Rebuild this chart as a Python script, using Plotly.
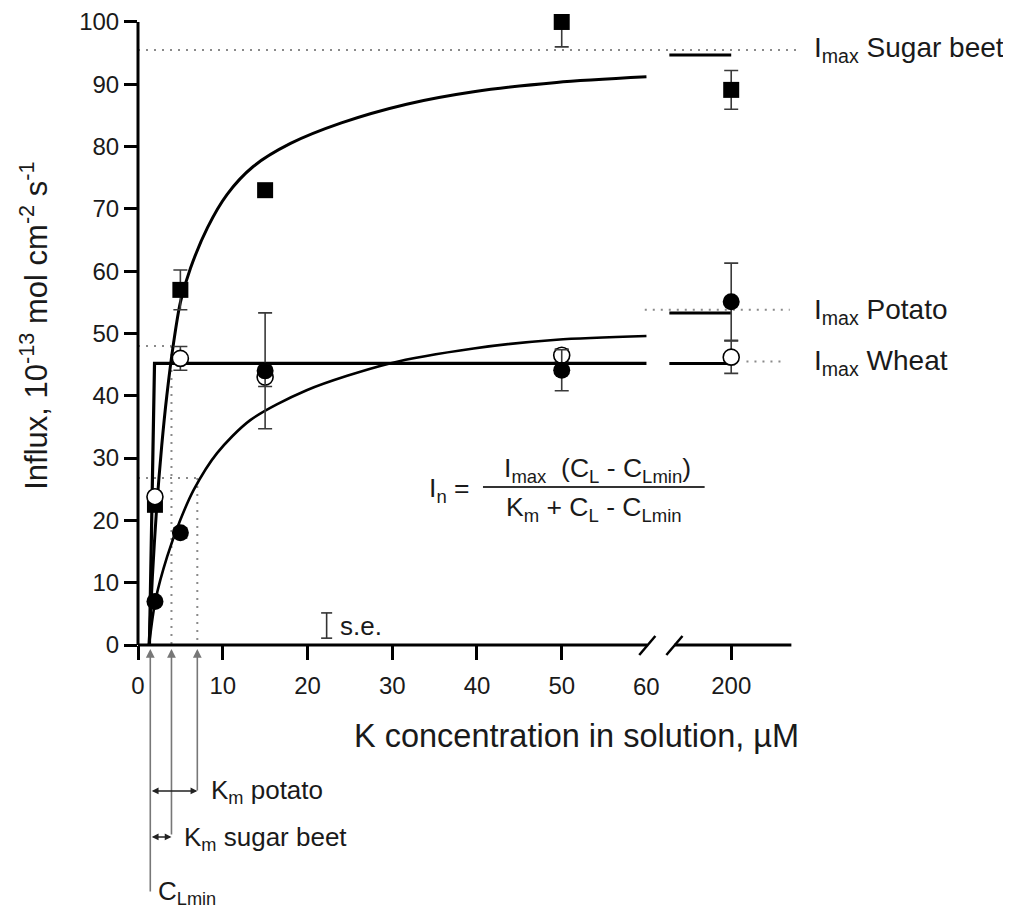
import plotly.graph_objects as go

# ---------------- data ----------------
conc = [2, 5, 15, 50, 200]                       # K concentration, µM
sugar_beet = [22.5, 57, 73, 100, 89.1]           # filled squares
sugar_beet_err_up = [0, 3.2, 0, 0, 3.1]
sugar_beet_err_down = [0, 3.2, 0, 4.0, 3.1]
potato = [7, 18, 44, 44.1, 55.1]                 # filled circles
potato_err = [0, 0.8, 9.3, 3.3, 6.2]
wheat = [23.8, 46, 43, 46.5, 46.2]               # open circles
wheat_err = [0, 1.9, 1.5, 1.0, 2.6]

# fitted curves (0-60 µM part)
sb_curve_x = [1.3, 1.7, 2.2, 2.8, 3.4, 4.2, 5.0, 6.2, 8.2, 10.5, 13.6, 18.0, 24.0, 31.7, 39.6, 49.4, 60.0]
sb_curve_y = [0, 11, 22, 32, 40, 48.5, 55.0, 60.5, 67.0, 72.3, 76.8, 80.5, 83.8, 86.8, 88.8, 90.3, 91.2]
potato_curve_x = [1.3, 2.06, 3.44, 5.0, 6.57, 9.33, 13.25, 19.9, 29.7, 39.6, 49.4, 60.0]
potato_curve_y = [0, 7.2, 14.2, 20.1, 24.9, 30.8, 36.1, 40.9, 45.2, 47.6, 49.0, 49.6]
wheat_curve_x = [1.35, 1.95, 60.0]
wheat_curve_y = [0, 45.2, 45.2]

# curve levels on the short piece after the axis break (up to 200 µM)
sb_after_break = 94.7
potato_after_break = 53.3
wheat_after_break = 45.2

imax_labels = ["Sugar beet", "Potato", "Wheat"]
imax_values = [95.5, 53.8, 45.5]

cl_min = 1.45
km_sb_point = 3.95     # C_Lmin + Km (sugar beet)
km_potato_point = 7.0  # C_Lmin + Km (potato)
half_imax_sb = 48.0
half_imax_potato = 26.8

x_tick_values = [0, 10, 20, 30, 40, 50, 60, 200]
y_tick_values = [0, 10, 20, 30, 40, 50, 60, 70, 80, 90, 100]

# ---------------- broken x axis ----------------
BREAK_AT = 60
POS_200 = 70          # display position of the 200 µM tick
SEG_START = 62.7      # display position where curves resume after the break
X_END = 77.1


def disp(x):
    return x if x <= BREAK_AT else POS_200


FONT = "Liberation Sans, Arial, Helvetica, sans-serif"
TXT = "#1a1a1a"
DOT = "#8a8a8a"

# geometry: the page body adds an 8 px offset to the figure
OFF = 8
W, H = 1003, 902
ML, PW = 129.5, 662
PH = 101.6 * 6.233
PB = 637                      # plot bottom in figure pixels
MT = PB - PH


def xp(px):
    """page pixel x -> paper x"""
    return (px - OFF - ML) / PW


def yp(py):
    """page pixel y -> paper y"""
    return (PB - (py - OFF)) / PH


fig = go.Figure()


def dotted(x0, x1, y0, y1):
    fig.add_trace(go.Scatter(x=[x0, x1], y=[y0, y1], mode="lines",
                             line=dict(color=DOT, width=2, dash="2px,6px"),
                             hoverinfo="skip", showlegend=False, cliponaxis=False))


dotted(0, 77.8, imax_values[0], imax_values[0])
dotted(59.8, 76.9, imax_values[1], imax_values[1])
dotted(71.8, 76.0, imax_values[2], imax_values[2])
dotted(0, km_sb_point, half_imax_sb, half_imax_sb)
dotted(km_sb_point, km_sb_point, half_imax_sb, 0)
dotted(0, km_potato_point, half_imax_potato, half_imax_potato)
dotted(km_potato_point, km_potato_point, half_imax_potato, 0)

# fitted curves
fig.add_trace(go.Scatter(x=sb_curve_x, y=sb_curve_y, mode="lines",
                         line=dict(color="black", width=3, shape="spline", smoothing=0.8),
                         showlegend=False, hoverinfo="skip", cliponaxis=False))
fig.add_trace(go.Scatter(x=potato_curve_x, y=potato_curve_y, mode="lines",
                         line=dict(color="black", width=2.6, shape="spline", smoothing=0.8),
                         showlegend=False, hoverinfo="skip", cliponaxis=False))
fig.add_trace(go.Scatter(x=wheat_curve_x, y=wheat_curve_y, mode="lines", line=dict(color="black", width=3.2),
                         showlegend=False, hoverinfo="skip", cliponaxis=False))
for lvl in [sb_after_break, potato_after_break, wheat_after_break]:
    fig.add_trace(go.Scatter(x=[SEG_START, disp(200)], y=[lvl, lvl], mode="lines",
                             line=dict(color="black", width=3),
                             showlegend=False, hoverinfo="skip", cliponaxis=False))

xd = [disp(c) for c in conc]
err_style = dict(color="#3a3a3a", thickness=1.6, width=7)

fig.add_trace(go.Scatter(x=xd, y=sugar_beet, mode="markers", name="Sugar beet",
                         marker=dict(symbol="square", size=16, color="black"),
                         error_y=dict(type="data", symmetric=False, array=sugar_beet_err_up,
                                      arrayminus=sugar_beet_err_down, **err_style),
                         showlegend=False, cliponaxis=False))
fig.add_trace(go.Scatter(x=xd, y=wheat, mode="markers", name="Wheat",
                         marker=dict(symbol="circle", size=16, color="white", line=dict(color="black", width=1.6)),
                         error_y=dict(type="data", array=wheat_err, **err_style),
                         showlegend=False, cliponaxis=False))
fig.add_trace(go.Scatter(x=xd, y=potato, mode="markers", name="Potato",
                         marker=dict(symbol="circle", size=17, color="black"),
                         error_y=dict(type="data", array=potato_err, **err_style),
                         showlegend=False, cliponaxis=False))

shapes = []
# axis lines (y axis and broken x axis)
shapes.append(dict(type="line", xref="paper", yref="y", x0=0, x1=0, y0=0, y1=100,
                   line=dict(color="black", width=3)))
shapes.append(dict(type="line", xref="x", yref="paper", x0=0, x1=BREAK_AT + 0.1, y0=0, y1=0,
                   line=dict(color="black", width=3)))
shapes.append(dict(type="line", xref="x", yref="paper", x0=SEG_START + 0.6, x1=X_END, y0=0, y1=0,
                   line=dict(color="black", width=3)))
for cx in [BREAK_AT + 0.1, SEG_START + 0.6]:
    shapes.append(dict(type="line", xref="x", yref="paper", x0=cx - 0.95, x1=cx + 0.95,
                       y0=yp(655), y1=yp(636), line=dict(color="black", width=2.5)))

# s.e. marker
se_x = 22.26
shapes.append(dict(type="line", xref="x", yref="y", x0=se_x, x1=se_x, y0=1.1, y1=5.15,
                   line=dict(color="#333", width=1.6)))
for yy in [1.1, 5.15]:
    shapes.append(dict(type="line", xref="x", yref="y", x0=se_x - 0.65, x1=se_x + 0.65, y0=yy, y1=yy,
                       line=dict(color="#333", width=1.6)))

# fraction bar of the formula
shapes.append(dict(type="line", xref="paper", yref="paper", x0=xp(483), x1=xp(705), y0=yp(487), y1=yp(487),
                   line=dict(color="#333", width=2)))

annotations = []
# "60" label at the break
annotations.append(dict(x=60, xref="x", y=yp(687), yref="paper", text="60", showarrow=False,
                        font=dict(family=FONT, size=24, color=TXT), xanchor="center", yanchor="middle"))

# axis titles
annotations.append(dict(x=xp(577), y=yp(736), xref="paper", yref="paper", showarrow=False,
                        text="K concentration in solution, µM",
                        font=dict(family=FONT, size=32.5, color=TXT), xanchor="center", yanchor="middle"))
annotations.append(dict(x=xp(33), y=yp(326), xref="paper", yref="paper", showarrow=False, textangle=-90,
                        text="Influx, 10<sup>-13</sup> mol cm<sup>-2</sup> s<sup>-1</sup>",
                        font=dict(family=FONT, size=31, color=TXT), xanchor="center", yanchor="middle"))

# I_max labels
for lab, py in zip(imax_labels, [49, 311, 362]):
    annotations.append(dict(x=xp(813), y=yp(py), xref="paper", yref="paper", showarrow=False,
                            text="I<sub>max</sub> " + lab, font=dict(family=FONT, size=28, color=TXT),
                            xanchor="left", yanchor="middle"))

# formula
annotations.append(dict(x=xp(427), y=yp(490), xref="paper", yref="paper", showarrow=False,
                        text="I<sub>n</sub> =", font=dict(family=FONT, size=26.5, color=TXT),
                        xanchor="left", yanchor="middle"))
annotations.append(dict(x=xp(598), y=yp(470), xref="paper", yref="paper", showarrow=False,
                        text="I<sub>max</sub>  (C<sub>L</sub> - C<sub>Lmin</sub>)",
                        font=dict(family=FONT, size=26.5, color=TXT), xanchor="center", yanchor="middle"))
annotations.append(dict(x=xp(594), y=yp(509), xref="paper", yref="paper", showarrow=False,
                        text="K<sub>m</sub> + C<sub>L</sub> - C<sub>Lmin</sub>",
                        font=dict(family=FONT, size=26.5, color=TXT), xanchor="center", yanchor="middle"))

# s.e. label
annotations.append(dict(x=xp(338), y=yp(626), xref="paper", yref="paper", showarrow=False, text="s.e.",
                        font=dict(family=FONT, size=26, color=TXT), xanchor="left", yanchor="middle"))

# vertical arrows below the axis (C_Lmin, Km marks)
for xv, ybot in [(cl_min, 893), (km_sb_point, 836), (km_potato_point, 792)]:
    annotations.append(dict(x=xv, xref="x", y=yp(649), yref="paper", ax=0, ay=ybot - 649,
                            text="", showarrow=True, arrowhead=2, arrowsize=1.1, arrowwidth=1.6,
                            arrowcolor="#777"))
# horizontal Km arrows
for xv, yv in [(km_potato_point, 791), (km_sb_point, 837)]:
    annotations.append(dict(x=xv, xref="x", y=yp(yv), yref="paper", ax=cl_min, axref="x", ay=0,
                            text="", showarrow=True, arrowhead=2, arrowside="end+start",
                            arrowsize=0.9, arrowwidth=1.5, arrowcolor="#222"))
annotations.append(dict(x=xp(209), y=yp(792), xref="paper", yref="paper", showarrow=False,
                        text="K<sub>m</sub> potato", font=dict(family=FONT, size=26, color=TXT),
                        xanchor="left", yanchor="middle"))
annotations.append(dict(x=xp(182), y=yp(839), xref="paper", yref="paper", showarrow=False,
                        text="K<sub>m</sub> sugar beet", font=dict(family=FONT, size=26, color=TXT),
                        xanchor="left", yanchor="middle"))
annotations.append(dict(x=xp(156), y=yp(893), xref="paper", yref="paper", showarrow=False,
                        text="C<sub>Lmin</sub>", font=dict(family=FONT, size=26, color=TXT),
                        xanchor="left", yanchor="middle"))

tick_disp = [disp(v) for v in x_tick_values if v != BREAK_AT]
tick_text = [str(v) for v in x_tick_values if v != BREAK_AT]

fig.update_layout(
    width=W, height=H,
    margin=dict(l=ML, r=W - ML - PW, t=MT, b=H - PB, autoexpand=False),
    paper_bgcolor="white", plot_bgcolor="white",
    font=dict(family=FONT, color=TXT),
    showlegend=False,
    shapes=shapes, annotations=annotations,
    xaxis=dict(range=[0, 78], tickvals=tick_disp, ticktext=tick_text, showline=False, zeroline=False,
               showgrid=False, ticks="outside", ticklen=14, tickwidth=2.5, tickcolor="black",
               ticklabelstandoff=5,
               tickfont=dict(family=FONT, size=24, color=TXT), fixedrange=True),
    yaxis=dict(range=[0, 101.6], tickvals=y_tick_values, showline=False, zeroline=False, showgrid=False,
               ticks="outside", ticklen=13, tickwidth=2.5, tickcolor="black",
               tickfont=dict(family=FONT, size=24, color=TXT), fixedrange=True),
)

fig.write_html("out.html")
